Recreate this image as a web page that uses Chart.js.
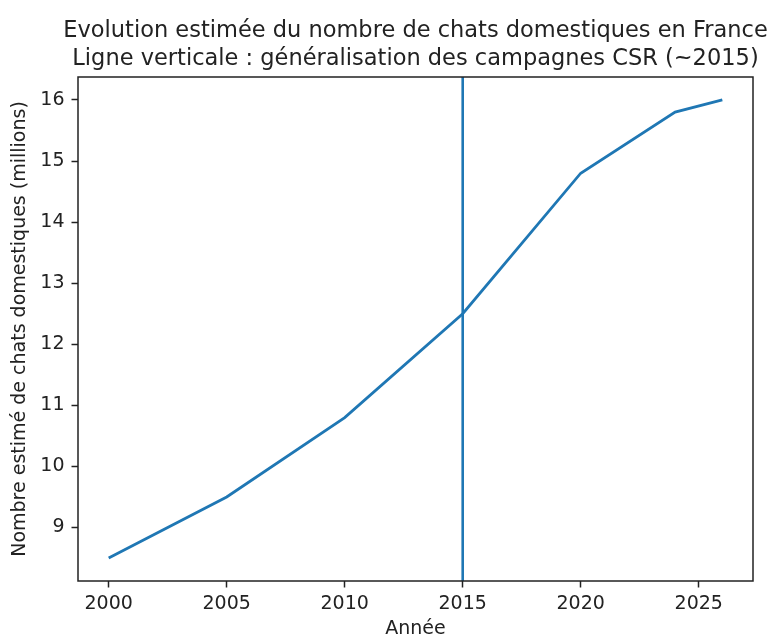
<!DOCTYPE html>
<html>
<head>
<meta charset="utf-8">
<script src="https://cdn.jsdelivr.net/npm/chart.js@4"></script>
<style>
  html, body { margin: 0; padding: 0; background: #fff; }
  #chart { display: block; }
</style>
</head>
<body>
<canvas id="chart" width="771" height="637"></canvas>
<script>
const years = [2000, 2005, 2010, 2015, 2020, 2024, 2026];
const cats = [8.5, 9.5, 10.8, 12.5, 14.8, 15.8, 16.0];
const xTicks = [2000, 2005, 2010, 2015, 2020, 2025];
const yTicks = [9, 10, 11, 12, 13, 14, 15, 16];
const csrYear = 2015;

const titleLines = [
    'Evolution estimée du nombre de chats domestiques en France',
    'Ligne verticale : généralisation des campagnes CSR (~2015)'
];

const blue = '#1f77b4';
const ink = '#222';
const font = 'DejaVu Sans';

// matplotlib style 5% margins around the data
const xSpan = Math.max(...years) - Math.min(...years);
const ySpan = Math.max(...cats) - Math.min(...cats);
const xMin = Math.min(...years) - xSpan * 0.05, xMax = Math.max(...years) + xSpan * 0.05;
const yMin = Math.min(...cats) - ySpan * 0.05, yMax = Math.max(...cats) + ySpan * 0.05;

// frame, CSR line, and a title centred over the plot area (like matplotlib)
const frame = {
    id: 'frame',
    afterDatasetsDraw(chart) {
        const { ctx, chartArea: a, scales } = chart;
        const x = scales.x.getPixelForValue(csrYear);
        ctx.save();
        ctx.strokeStyle = blue;
        ctx.lineWidth = 2.6;
        ctx.beginPath();
        ctx.moveTo(x, a.top);
        ctx.lineTo(x, a.bottom);
        ctx.stroke();
        ctx.strokeStyle = ink;
        ctx.lineWidth = 1.5;
        ctx.strokeRect(a.left, a.top, a.right - a.left, a.bottom - a.top);

        ctx.fillStyle = ink;
        ctx.font = `22.5px "${font}"`;
        ctx.textAlign = 'center';
        ctx.textBaseline = 'alphabetic';
        const cx = (a.left + a.right) / 2;
        titleLines.forEach((t, i) => ctx.fillText(t, cx, a.top - 40 + i * 28));
        ctx.restore();
    }
};

const tickSetter = (list) => (scale) => { scale.ticks = list.map(v => ({ value: v })); };

new Chart(document.getElementById('chart'), {
    type: 'line',
    data: {
        datasets: [{
            data: years.map((y, i) => ({ x: y, y: cats[i] })),
            borderColor: blue, borderWidth: 2.8, pointRadius: 0, tension: 0, fill: false
        }]
    },
    options: {
        responsive: false, animation: false,
        layout: { padding: { left: 0, right: 18, top: 77, bottom: 0 } },
        plugins: {
            legend: { display: false }, tooltip: { enabled: false }, title: { display: false }
        },
        scales: {
            x: {
                type: 'linear', min: xMin, max: xMax,
                afterBuildTicks: tickSetter(xTicks),
                afterFit: (s) => { s.height = 56; },
                border: { display: false },
                grid: { drawOnChartArea: false, drawTicks: true, tickLength: 6.5, color: ink, tickWidth: 1.5 },
                ticks: { color: ink, font: { family: font, size: 19 }, padding: 5, maxRotation: 0, callback: v => String(v) },
                title: { display: true, text: 'Année', color: ink, font: { family: font, size: 19, lineHeight: 0.85 }, padding: { top: 0, bottom: 0 } }
            },
            y: {
                min: yMin, max: yMax,
                afterBuildTicks: tickSetter(yTicks),
                afterFit: (s) => { s.width = 78; },
                border: { display: false },
                grid: { drawOnChartArea: false, drawTicks: true, tickLength: 6.5, color: ink, tickWidth: 1.5 },
                ticks: { color: ink, font: { family: font, size: 19 }, padding: 7, callback: v => String(v) },
                title: { display: true, text: 'Nombre estimé de chats domestiques (millions)', color: ink, font: { family: font, size: 19 }, padding: { top: 9, bottom: 0 } }
            }
        }
    },
    plugins: [frame]
});
</script>
</body>
</html>
